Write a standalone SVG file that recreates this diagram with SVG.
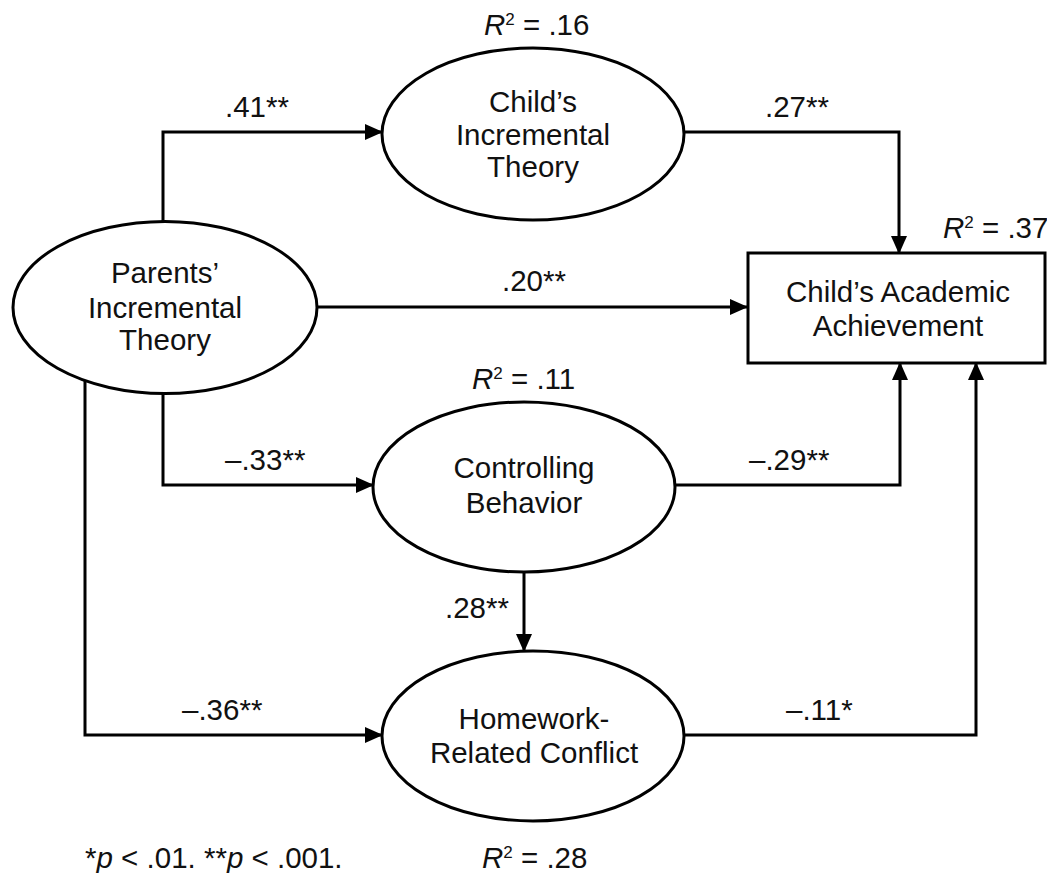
<svg xmlns="http://www.w3.org/2000/svg" width="1047" height="873" viewBox="0 0 1047 873">
<style>
text{font-family:"Liberation Sans",Arial,sans-serif;font-size:29.5px;fill:#111}
.c{text-anchor:middle}
.node{fill:#fff;stroke:#000;stroke-width:3}
.conn{fill:none;stroke:#000;stroke-width:3;marker-end:url(#ah)}
.i{font-style:italic}
.sup{font-size:17px}
</style>
<defs>
<marker id="ah" markerUnits="userSpaceOnUse" markerWidth="18" markerHeight="16" refX="17" refY="8" orient="auto">
<path d="M0,0 L18,8 L0,16 z" fill="#000"/>
</marker>
</defs>
<rect width="1047" height="873" fill="#fff"/>
<g id="connectors">
<path class="conn" d="M163,222 V132 H382"/>
<path class="conn" d="M685,132 H899 V253"/>
<path class="conn" d="M317,307 H747"/>
<path class="conn" d="M163,393 V485 H373"/>
<path class="conn" d="M675,485 H900 V363"/>
<path class="conn" d="M524,572 V651"/>
<path class="conn" d="M85,380 V735 H382"/>
<path class="conn" d="M685,735 H976 V363"/>
</g>
<g id="parents">
<ellipse class="node" cx="165" cy="307.5" rx="152" ry="86"/>
<text class="c" x="165" y="283">Parents’</text>
<text class="c" x="165" y="318">Incremental</text>
<text class="c" x="165" y="350">Theory</text>
</g>
<g id="child-theory">
<ellipse class="node" cx="533" cy="134" rx="151" ry="86"/>
<text class="c" x="533" y="112">Child’s</text>
<text class="c" x="533" y="145">Incremental</text>
<text class="c" x="533" y="177">Theory</text>
</g>
<g id="controlling">
<ellipse class="node" cx="524" cy="487" rx="151" ry="85"/>
<text class="c" x="524" y="478">Controlling</text>
<text class="c" x="524" y="513">Behavior</text>
</g>
<g id="homework">
<ellipse class="node" cx="533" cy="736" rx="151" ry="85"/>
<text class="c" x="534" y="729">Homework-</text>
<text class="c" x="534" y="763">Related Conflict</text>
</g>
<g id="achievement">
<rect class="node" x="748" y="253" width="297" height="110"/>
<text class="c" x="898" y="302">Child’s Academic</text>
<text class="c" x="898" y="336">Achievement</text>
</g>
<g id="labels">
<text x="484" y="35"><tspan class="i">R</tspan><tspan class="sup" dy="-10">2</tspan><tspan dy="10"> = .16</tspan></text>
<text x="943" y="238"><tspan class="i">R</tspan><tspan class="sup" dy="-10">2</tspan><tspan dy="10"> = .37</tspan></text>
<text x="472" y="389"><tspan class="i">R</tspan><tspan class="sup" dy="-10">2</tspan><tspan dy="10"> = .11</tspan></text>
<text x="482" y="868"><tspan class="i">R</tspan><tspan class="sup" dy="-10">2</tspan><tspan dy="10"> = .28</tspan></text>
<text x="225" y="117">.41**</text>
<text x="765" y="117">.27**</text>
<text x="502" y="291">.20**</text>
<text x="225" y="470">–.33**</text>
<text x="749" y="470">–.29**</text>
<text x="445" y="618">.28**</text>
<text x="182" y="720">–.36**</text>
<text x="786" y="720">–.11*</text>
<text x="85" y="868">*<tspan class="i">p</tspan> &lt; .01. **<tspan class="i">p</tspan> &lt; .001.</text>
</g>
</svg>
